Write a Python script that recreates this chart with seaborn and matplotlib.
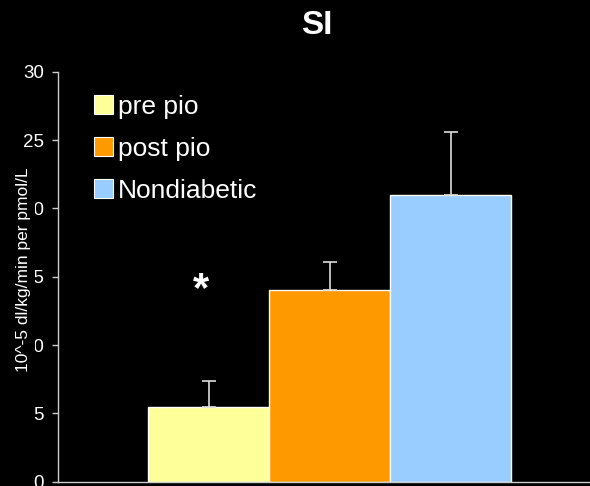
import matplotlib
matplotlib.use("Agg")
import matplotlib.pyplot as plt
import seaborn as sns
import pandas as pd
import numpy as np

groups = ["pre pio", "post pio", "Nondiabetic"]
si_means = [5.5, 14.0, 21.0]
si_upper_err = [1.9, 2.1, 4.6]
bar_colors = ["#FFFF99", "#FF9900", "#99CCFF"]
y_ticks = [0, 5, 10, 15, 20, 25, 30]

sns.set_style("dark")
plt.rcParams["font.family"] = ["Liberation Sans", "DejaVu Sans"]

W, H = 590, 486
fig = plt.figure(figsize=(W / 100, H / 100), dpi=100, facecolor="black")
ax = fig.add_axes([58 / W, 1 - 481.7 / H, 540 / W, 410 / H])
ax.set_facecolor("black")

df = pd.DataFrame({"group": groups, "si": si_means})
sns.barplot(data=df, x="group", y="si", hue="group", order=groups,
            hue_order=groups, palette=bar_colors, saturation=1, width=1.0,
            dodge=False, legend=False, edgecolor="white", linewidth=1.0,
            ax=ax)

ax.errorbar(np.arange(len(groups)), si_means,
            yerr=[np.zeros(len(groups)), si_upper_err], fmt="none",
            ecolor="#DDDDDD", elinewidth=1.2, capsize=5, capthick=1.2,
            zorder=1)

ax.set_xlim(-1.247, 3.22)
ax.set_ylim(0, 30)
ax.set_yticks(y_ticks)
ax.set_yticklabels([str(t) for t in y_ticks], color="white", fontsize=13.5)
ax.set_xticks([])
ax.set_xlabel("")
ax.set_ylabel("")
ax.grid(False)
for side in ["top", "right"]:
    ax.spines[side].set_visible(False)
for side in ["left", "bottom"]:
    ax.spines[side].set_visible(True)
    ax.spines[side].set_color("#CCCCCC")
    ax.spines[side].set_linewidth(1.0)
ax.tick_params(axis="y", colors="#CCCCCC", length=4.5, width=1, pad=5.5,
               labelcolor="white", left=True)

# black strip behind the vertical axis title, laid over the tick labels
fig.patches.append(plt.Rectangle((0, 1 - 384 / H), 34.5 / W, 226 / H,
                                 transform=fig.transFigure, facecolor="black",
                                 edgecolor="none", zorder=5))
fig.text(24 / W, 1 - 270 / H, "10^-5 dl/kg/min per pmol/L",
         rotation=90, ha="center", va="center", color="white",
         fontsize=12.5, zorder=6)

fig.text(317 / W, 1 - 26 / H, "SI", ha="center", va="center",
         color="white", fontsize=24, fontweight="bold")

ax.text(-0.065, 14.0, "*", ha="center", va="center", color="white",
        fontsize=30, fontweight="bold")

handles = [plt.Rectangle((0, 0), 1, 1, facecolor=c, edgecolor="white",
                         linewidth=0.8) for c in bar_colors]
leg = ax.legend(handles, groups, loc="upper left",
                bbox_to_anchor=(0.066, 0.943), frameon=False, fontsize=19,
                handlelength=0.72, handleheight=0.72, handletextpad=0.2,
                labelspacing=0.68, labelcolor="white", borderaxespad=0,
                borderpad=0)

fig.savefig("out.png", dpi=100, facecolor="black")
